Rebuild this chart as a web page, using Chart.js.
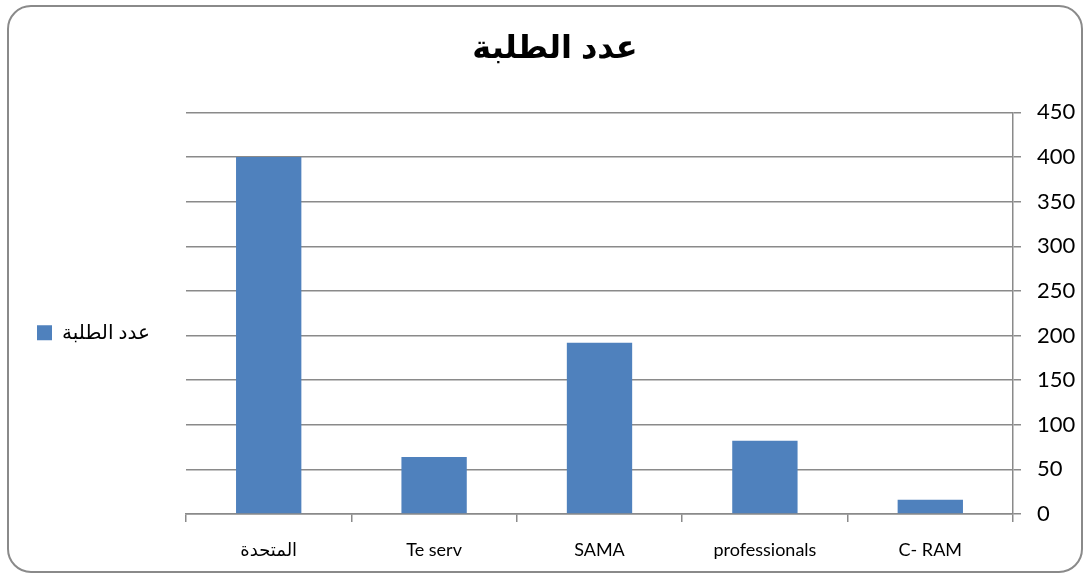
<!DOCTYPE html>
<html>
<head>
<meta charset="utf-8">
<script src="https://cdn.jsdelivr.net/npm/chart.js@4/dist/chart.umd.min.js"></script>
<style>
    html, body { margin: 0; padding: 0; background: #ffffff; }
    #wrap { position: relative; width: 1090px; height: 578px; }
    #frame {
        position: absolute; left: 7px; top: 5px; width: 1072px; height: 564px;
        border: 2px solid #8a8a8a; border-radius: 24px;
    }
    #studentsChart { position: absolute; left: 0; top: 0; }
</style>
</head>
<body>
<div id="wrap">
    <div id="frame"></div>
    <canvas id="studentsChart" width="1090" height="578"></canvas>
</div>
<script>
// Students per company
const chartTitle = 'عدد الطلبة';
const companies = ['المتحدة', 'Te serv', 'SAMA', 'professionals', 'C- RAM'];
const studentCounts = [400, 64, 192, 82, 16];
const yTicks = [0, 50, 100, 150, 200, 250, 300, 350, 400, 450];

const gridGrey = '#8a8a8a';
const barBlue = '#4f81bd';

// keep the legend column a fixed width so the plot starts where the original does
const legendWidthPlugin = {
    id: 'legendWidth',
    beforeInit(chart) {
        const legend = chart.legend;
        if (!legend) return;
        const origFit = legend.fit;
        legend.fit = function() {
            origFit.call(this);
            this.width = 159;
        };
    }
};

let studentsChart;

document.addEventListener('DOMContentLoaded', function() {
    const ctx = document.getElementById('studentsChart');
    studentsChart = new Chart(ctx.getContext('2d'), {
        type: 'bar',
        data: {
            labels: companies,
            datasets: [{
                label: chartTitle,
                data: studentCounts,
                backgroundColor: barBlue,
                borderWidth: 0,
                categoryPercentage: 1,
                barPercentage: 0.395
            }]
        },
        options: {
            responsive: false,
            animation: false,
            layout: {
                padding: { left: 27, right: 7, top: 5, bottom: 10 }
            },
            plugins: {
                title: {
                    display: true,
                    text: chartTitle,
                    color: '#000000',
                    font: { family: "'Liberation Sans', 'DejaVu Sans', sans-serif", size: 32, weight: 'bold' },
                    padding: { top: 25, bottom: 44 }
                },
                legend: {
                    position: 'left',
                    fullSize: false,
                    title: {
                        display: true,
                        text: '',
                        font: { size: 10, lineHeight: 1 },
                        padding: { top: 29, bottom: 0 }
                    },
                    labels: {
                        color: '#000000',
                        boxWidth: 15,
                        boxHeight: 15,
                        font: { family: "Lato, 'DejaVu Sans', sans-serif", size: 20 }
                    }
                },
                tooltip: { enabled: false }
            },
            scales: {
                x: {
                    afterFit(scale) { scale.height = 54; },
                    grid: {
                        offset: true,
                        drawOnChartArea: false,
                        drawTicks: true,
                        tickLength: 8,
                        color: gridGrey,
                        lineWidth: 1.5
                    },
                    border: { display: true, color: gridGrey, width: 1.5 },
                    ticks: {
                        color: '#000000',
                        padding: 17,
                        maxRotation: 0,
                        font: { family: "Lato, 'DejaVu Sans', sans-serif", size: 18 }
                    }
                },
                y: {
                    position: 'right',
                    min: 0,
                    max: 450,
                    afterFit(scale) { scale.width = 70; },
                    afterBuildTicks(scale) {
                        scale.ticks = yTicks.map(v => ({ value: v }));
                    },
                    grid: {
                        drawTicks: true,
                        tickLength: 8,
                        color: gridGrey,
                        lineWidth: 1.5
                    },
                    border: { display: true, color: gridGrey, width: 1.5 },
                    ticks: {
                        color: '#000000',
                        padding: 16,
                        font: { family: "Lato, 'DejaVu Sans', sans-serif", size: 22 }
                    }
                }
            }
        },
        plugins: [legendWidthPlugin]
    });
});
</script>
</body>
</html>
